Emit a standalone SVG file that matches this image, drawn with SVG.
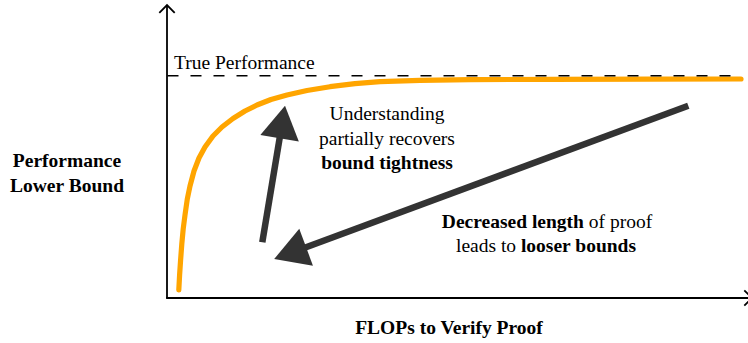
<svg xmlns="http://www.w3.org/2000/svg" width="748" height="343" viewBox="0 0 748 343">
  <style>
    .t { font-family: "Liberation Serif", "Times New Roman", serif; font-size: 19.5px; fill: #000; }
    .b { font-weight: bold; }
    .axis { stroke: #000; stroke-width: 1.8; fill: none; }
    .arr { stroke: #333333; stroke-width: 6.5; fill: none; stroke-linecap: butt; }
    .head { fill: #333333; stroke: none; }
  </style>
  <rect width="748" height="343" fill="#ffffff"/>

  <g id="axes">
    <line class="axis" x1="167" y1="298" x2="167" y2="6"/>
    <polyline class="axis" points="159.3,12.8 167,5 174.7,12.8" stroke-linejoin="miter"/>
    <line class="axis" x1="166.1" y1="298" x2="750" y2="298"/>
    <polyline class="axis" points="744.3,290.4 752,298 744.3,305.6"/>
  </g>

  <g id="curve">
    <polyline fill="none" stroke="#FFA500" stroke-width="5.2" stroke-linecap="round" stroke-linejoin="round"
      points="178.8,290 179.6,275 180.6,260 181.8,244 183.2,229 185,215 187.3,199 190,186 194,171 199,158 205,147 213,136 222,127 233,118.5 245,111 257,105 271,99.5 287,95 307,90.5 330,86.7 355,83.6 380,81.6 420,80.4 470,79.7 550,79.3 650,79.1 741,79"/>
  </g>

  <g id="true-performance">
    <line x1="167.5" y1="75.7" x2="741" y2="75.7" stroke="#000" stroke-width="1.4" stroke-dasharray="11 12"/>
    <text class="t" x="174" y="68.5">True Performance</text>
  </g>

  <g id="y-label">
    <text class="t b" x="67" y="167" text-anchor="middle">Performance</text>
    <text class="t b" x="67" y="191.5" text-anchor="middle">Lower Bound</text>
  </g>

  <g id="x-label">
    <text class="t b" x="449" y="334" text-anchor="middle">FLOPs to Verify Proof</text>
  </g>

  <g id="understanding-label">
    <text class="t" x="387" y="120" text-anchor="middle">Understanding</text>
    <text class="t" x="387" y="144.5" text-anchor="middle">partially recovers</text>
    <text class="t b" x="387" y="168.5" text-anchor="middle">bound tightness</text>
  </g>

  <g id="decreased-label">
    <text class="t" x="547" y="227.5" text-anchor="middle"><tspan class="b">Decreased length</tspan> of proof</text>
    <text class="t" x="546" y="251.5" text-anchor="middle">leads to <tspan class="b">looser bounds</tspan></text>
  </g>

  <g id="connectors">
    <line class="arr" x1="262.3" y1="242.3" x2="280" y2="136"/>
    <polygon class="head" points="285,105.7 260.35,135.05 298.84,141.45"/>
    <line class="arr" x1="688.3" y1="105.7" x2="304" y2="248"/>
    <polygon class="head" points="274.2,259 299.26,228.73 312.94,265.67"/>
  </g>
</svg>
